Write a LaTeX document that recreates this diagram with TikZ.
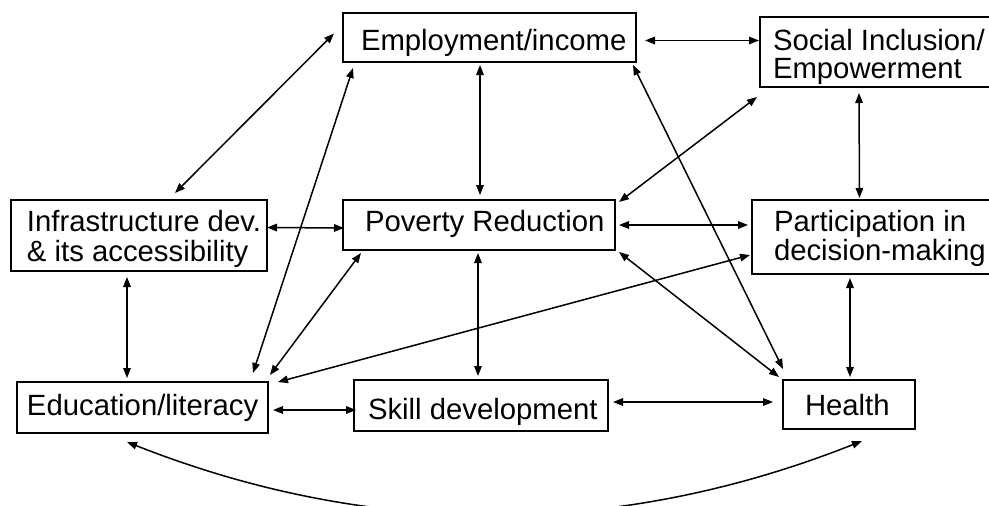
\documentclass[tikz,border=0pt]{standalone}
\usepackage{fontspec}
\setmainfont{Liberation Sans}
\usetikzlibrary{arrows.meta}
\begin{document}
\begin{tikzpicture}[x=1pt,y=-1pt,
  box/.style={draw, line width=2pt, inner sep=0pt, outer sep=0pt},
  txt/.style={anchor=base west, inner sep=0pt, outer sep=0pt, font=\fontsize{29.3}{29}\selectfont},
  link/.style={{Triangle[length=10pt,width=7.5pt]}-{Triangle[length=10pt,width=7.5pt]}, line width=1.5pt}]
\useasboundingbox (0,0) rectangle (989,506);
\clip (0,0) rectangle (989,506);
% boxes
\node[box, minimum width=293pt, minimum height=49pt] (emp) at (489.5,37.5) {};
\node[box, minimum width=236pt, minimum height=70pt] (soc) at (878,52) {};
\node[box, minimum width=256pt, minimum height=71pt] (inf) at (139,235.5) {};
\node[box, minimum width=272pt, minimum height=50pt] (pov) at (479,225) {};
\node[box, minimum width=253pt, minimum height=74pt] (par) at (878.5,237) {};
\node[box, minimum width=251pt, minimum height=51pt] (edu) at (142.5,407.5) {};
\node[box, minimum width=254pt, minimum height=51pt] (ski) at (481,405.5) {};
\node[box, minimum width=132pt, minimum height=49pt] (hea) at (849,404.5) {};
% texts
\node[txt] (empT) at (361,50) {Employment/income};
\node[txt] (socT1) at (773,50) {Social Inclusion/};
\node[txt] (socT2) at (773,78.5) {Empowerment};
\node[txt] (infT1) at (27,231.5) {Infrastructure dev.};
\node[txt] (infT2) at (27,261) {\& its accessibility};
\node[txt] (povT) at (365,231.5) {Poverty Reduction};
\node[txt] (parT1) at (774,231.5) {Participation in};
\node[txt] (parT2) at (774,260.5) {decision-making};
\node[txt] (eduT) at (27,415) {Education/literacy};
\node[txt] (skiT) at (368,419) {Skill development};
\node[txt] (heaT) at (805,415) {Health};
% connectors
\draw[link] ([shift={(9,3)}]emp.east) -- ([shift={(-1,-11.5)}]soc.west);
\draw[link] ([shift={(-9,-4)}]emp.west) -- ([shift={(36,-7)}]inf.north);
\draw[link] ([shift={(-9.5,3)}]emp.south) -- ([shift={(1,-5)}]pov.north);
\draw[link] ([shift={(10,6)}]emp.south west) -- ([shift={(-15,-9)}]edu.north east);
\draw[link] ([shift={(-3,3)}]emp.south east) -- ([shift={(0,-11)}]hea.north west);
\draw[link] ([shift={(-3,10)}]soc.south west) -- ([shift={(4,2)}]pov.north east);
\draw[link] ([shift={(-19,6)}]soc.south) -- ([shift={(-19,-2)}]par.north);
\draw[link] ([shift={(0,-8)}]inf.east) -- ([shift={(1,3)}]pov.west);
\draw[link] ([shift={(-12,6)}]inf.south) -- ([shift={(-15.5,-4)}]edu.north);
\draw[link] ([shift={(4,0)}]pov.east) -- ([shift={(-4,-12)}]par.west);
\draw[link] ([shift={(-1,3)}]pov.south) -- ([shift={(-3,-4)}]ski.north);
\draw[link] ([shift={(18,3)}]pov.south west) -- ([shift={(2,-7)}]edu.north east);
\draw[link] ([shift={(4,2)}]pov.south east) -- ([shift={(-4,-3)}]hea.north west);
\draw[link] ([shift={(-2,18)}]par.west) -- ([shift={(10,0)}]edu.north east);
\draw[link] ([shift={(-28.5,4)}]par.south) -- ([shift={(1,-3)}]hea.north);
\draw[link] ([shift={(5,2.5)}]edu.east) -- ([shift={(2,4.5)}]ski.west);
\draw[link] ([shift={(5,-3.5)}]ski.east) -- ([shift={(-10,-2.5)}]hea.west);
\draw[link] ([shift={(-15.5,9)}]edu.south) .. controls (371.7,538.7) and (616.7,538.3) .. ([shift={(13,12)}]hea.south);
\end{tikzpicture}
\end{document}
